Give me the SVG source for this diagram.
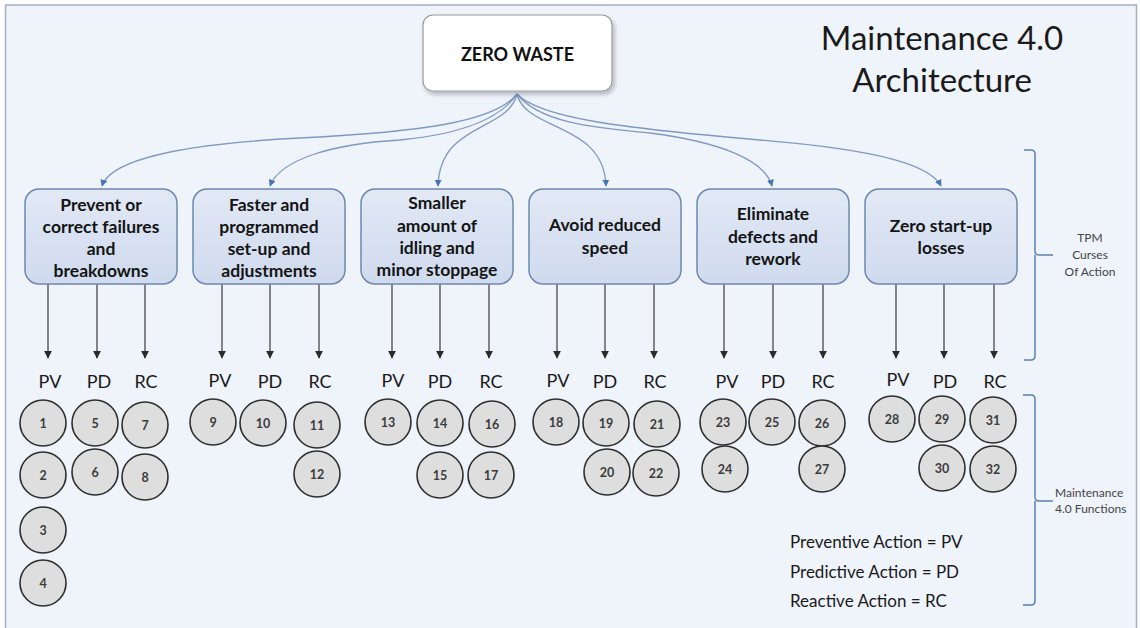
<svg xmlns="http://www.w3.org/2000/svg" width="1140" height="628" viewBox="0 0 1140 628">
  <defs>
    <style>
      .frame { fill: #eff3fa; stroke: #a3b0c6; stroke-width: 1.5; }
      .root-box { fill: #ffffff; stroke: #9a9a9a; stroke-width: 1.2; }
      .root-text { font-family: Lato, "Open Sans", sans-serif; font-weight: 700; font-size: 18px; fill: #111; text-anchor: middle; }
      .title { font-family: Lato, "Open Sans", sans-serif; font-size: 33px; fill: #1a1a1a; text-anchor: middle; }
      .box { fill: url(#boxFill); stroke: #6f86ad; stroke-width: 1.5; }
      .box-text { font-family: Lato, "Open Sans", sans-serif; font-weight: 700; font-size: 17.5px; fill: #141414; text-anchor: middle; }
      .branch { fill: none; stroke: #7f99c4; stroke-width: 1.3; marker-end: url(#blueHead); }
      .down { stroke: #3a3a3a; stroke-width: 1.2; marker-end: url(#darkHead); }
      .tag { font-family: Lato, "Open Sans", sans-serif; font-size: 18px; fill: #1a1a1a; text-anchor: middle; }
      .fn circle { fill: #dedede; stroke: #2e2e2e; stroke-width: 1.6; }
      .fn text { font-family: Lato, "Open Sans", sans-serif; font-weight: 700; font-size: 12.5px; fill: #3c3c3c; text-anchor: middle; }
      .bracket { fill: none; stroke: #5b7fb8; stroke-width: 1.5; }
      .side { font-family: Lato, "Open Sans", sans-serif; font-size: 12px; fill: #444; }
      .legend { font-family: Lato, "Open Sans", sans-serif; font-size: 17px; fill: #1a1a1a; }
    </style>
    <linearGradient id="boxFill" x1="0" y1="0" x2="0" y2="1">
      <stop offset="0" stop-color="#e2e9f5"/>
      <stop offset="1" stop-color="#cfdaee"/>
    </linearGradient>
    <filter id="shadow" x="-10%" y="-10%" width="125%" height="135%">
      <feDropShadow dx="2" dy="3" stdDeviation="2" flood-color="#000" flood-opacity="0.25"/>
    </filter>
    <marker id="blueHead" viewBox="0 0 10 10" refX="9" refY="5" markerWidth="7" markerHeight="7" markerUnits="userSpaceOnUse" orient="auto">
      <path d="M0,0 L10,5 L0,10 z" fill="#4a72b8"/>
    </marker>
    <marker id="darkHead" viewBox="0 0 10 10" refX="9" refY="5" markerWidth="8" markerHeight="8" markerUnits="userSpaceOnUse" orient="auto">
      <path d="M0,0 L10,5 L0,10 z" fill="#2a2a2a"/>
    </marker>
  </defs>

  <!-- canvas -->
  <rect x="0" y="0" width="1140" height="628" fill="#ffffff"/>
  <rect class="frame" x="5.5" y="5" width="1131" height="640"/>

  <!-- title -->
  <g id="title">
    <text class="title" x="942" y="50">Maintenance 4.0</text>
    <text class="title" x="942" y="92">Architecture</text>
  </g>

  <!-- connectors -->
  <g id="connectors">
    <path class="branch" d="M517,94 C495,122 420,132 300,138 C180,144 110,160 102,186"/>
    <path class="branch" d="M517,94 C497,124 445,136 400,140 C330,144 280,160 270,186"/>
    <path class="branch" d="M517,94 C508,132 440,122 438,186"/>
    <path class="branch" d="M517,94 C526,132 604,122 606,186"/>
    <path class="branch" d="M517,94 C540,124 600,128 650,133 C720,142 765,160 772,186"/>
    <path class="branch" d="M517,94 C540,118 620,128 760,140 C880,150 930,165 941,186"/>

    <line class="down" x1="48" y1="284" x2="48" y2="358"/>
    <line class="down" x1="97" y1="284" x2="97" y2="358"/>
    <line class="down" x1="145" y1="284" x2="145" y2="358"/>
    <line class="down" x1="222" y1="284" x2="222" y2="358"/>
    <line class="down" x1="270" y1="284" x2="270" y2="358"/>
    <line class="down" x1="319" y1="284" x2="319" y2="358"/>
    <line class="down" x1="392" y1="284" x2="392" y2="358"/>
    <line class="down" x1="440" y1="284" x2="440" y2="358"/>
    <line class="down" x1="489" y1="284" x2="489" y2="358"/>
    <line class="down" x1="557" y1="284" x2="557" y2="358"/>
    <line class="down" x1="605" y1="284" x2="605" y2="358"/>
    <line class="down" x1="654" y1="284" x2="654" y2="358"/>
    <line class="down" x1="724" y1="284" x2="724" y2="358"/>
    <line class="down" x1="773" y1="284" x2="773" y2="358"/>
    <line class="down" x1="823" y1="284" x2="823" y2="358"/>
    <line class="down" x1="896" y1="284" x2="896" y2="358"/>
    <line class="down" x1="944" y1="284" x2="944" y2="358"/>
    <line class="down" x1="994" y1="284" x2="994" y2="358"/>
  </g>

  <!-- root -->
  <g id="zero-waste">
    <rect class="root-box" x="423" y="15" width="189" height="76" rx="10" filter="url(#shadow)"/>
    <text class="root-text" x="517.5" y="61">ZERO WASTE</text>
  </g>

  <!-- TPM courses of action -->
  <g id="failures">
    <rect class="box" x="25" y="189" width="152" height="95" rx="14"/>
    <text class="box-text" x="101" y="211">Prevent or</text>
    <text class="box-text" x="101" y="233">correct failures</text>
    <text class="box-text" x="101" y="255">and</text>
    <text class="box-text" x="101" y="277">breakdowns</text>
  </g>
  <g id="setup">
    <rect class="box" x="193" y="189" width="152" height="95" rx="14"/>
    <text class="box-text" x="269" y="211">Faster and</text>
    <text class="box-text" x="269" y="233">programmed</text>
    <text class="box-text" x="269" y="255">set-up and</text>
    <text class="box-text" x="269" y="277">adjustments</text>
  </g>
  <g id="idling">
    <rect class="box" x="361" y="189" width="152" height="95" rx="14"/>
    <text class="box-text" x="437" y="209">Smaller</text>
    <text class="box-text" x="437" y="232">amount of</text>
    <text class="box-text" x="437" y="254">idling and</text>
    <text class="box-text" x="437" y="276">minor stoppage</text>
  </g>
  <g id="speed">
    <rect class="box" x="529" y="189" width="152" height="95" rx="14"/>
    <text class="box-text" x="605" y="231">Avoid reduced</text>
    <text class="box-text" x="605" y="254">speed</text>
  </g>
  <g id="defects">
    <rect class="box" x="697" y="189" width="152" height="95" rx="14"/>
    <text class="box-text" x="773" y="220">Eliminate</text>
    <text class="box-text" x="773" y="243">defects and</text>
    <text class="box-text" x="773" y="265">rework</text>
  </g>
  <g id="startup">
    <rect class="box" x="865" y="189" width="152" height="95" rx="14"/>
    <text class="box-text" x="941" y="232">Zero start-up</text>
    <text class="box-text" x="941" y="254">losses</text>
  </g>

  <!-- action type tags -->
  <g id="tags">
    <text class="tag" x="50" y="388">PV</text>
    <text class="tag" x="99" y="388">PD</text>
    <text class="tag" x="146" y="388">RC</text>
    <text class="tag" x="220" y="387">PV</text>
    <text class="tag" x="270" y="388">PD</text>
    <text class="tag" x="320" y="388">RC</text>
    <text class="tag" x="393" y="387">PV</text>
    <text class="tag" x="440" y="388">PD</text>
    <text class="tag" x="491" y="388">RC</text>
    <text class="tag" x="558" y="387">PV</text>
    <text class="tag" x="605" y="388">PD</text>
    <text class="tag" x="655" y="388">RC</text>
    <text class="tag" x="727" y="388">PV</text>
    <text class="tag" x="773" y="388">PD</text>
    <text class="tag" x="823" y="388">RC</text>
    <text class="tag" x="898" y="386">PV</text>
    <text class="tag" x="945" y="388">PD</text>
    <text class="tag" x="995" y="388">RC</text>
  </g>

  <!-- maintenance 4.0 functions -->
  <g id="functions" class="fn">
    <g id="f1"><circle cx="43" cy="423" r="23"/><text x="43" y="427.5">1</text></g>
    <g id="f2"><circle cx="43" cy="475" r="23"/><text x="43" y="479.5">2</text></g>
    <g id="f3"><circle cx="43" cy="530" r="23"/><text x="43" y="534.5">3</text></g>
    <g id="f4"><circle cx="43" cy="583" r="23"/><text x="43" y="587.5">4</text></g>
    <g id="f5"><circle cx="95" cy="423" r="23"/><text x="95" y="427.5">5</text></g>
    <g id="f6"><circle cx="95" cy="472" r="23"/><text x="95" y="476.5">6</text></g>
    <g id="f7"><circle cx="145" cy="425" r="23"/><text x="145" y="429.5">7</text></g>
    <g id="f8"><circle cx="145" cy="477" r="23"/><text x="145" y="481.5">8</text></g>
    <g id="f9"><circle cx="213" cy="422" r="23"/><text x="213" y="426.5">9</text></g>
    <g id="f10"><circle cx="263" cy="423" r="23"/><text x="263" y="427.5">10</text></g>
    <g id="f11"><circle cx="317" cy="425" r="23"/><text x="317" y="429.5">11</text></g>
    <g id="f12"><circle cx="317" cy="474" r="23"/><text x="317" y="478.5">12</text></g>
    <g id="f13"><circle cx="388" cy="422" r="23"/><text x="388" y="426.5">13</text></g>
    <g id="f14"><circle cx="440" cy="423" r="23"/><text x="440" y="427.5">14</text></g>
    <g id="f15"><circle cx="440" cy="475" r="23"/><text x="440" y="479.5">15</text></g>
    <g id="f16"><circle cx="492" cy="424" r="23"/><text x="492" y="428.5">16</text></g>
    <g id="f17"><circle cx="491" cy="475" r="23"/><text x="491" y="479.5">17</text></g>
    <g id="f18"><circle cx="556" cy="422" r="23"/><text x="556" y="426.5">18</text></g>
    <g id="f19"><circle cx="606" cy="423" r="23"/><text x="606" y="427.5">19</text></g>
    <g id="f20"><circle cx="607" cy="472" r="23"/><text x="607" y="476.5">20</text></g>
    <g id="f21"><circle cx="657" cy="424" r="23"/><text x="657" y="428.5">21</text></g>
    <g id="f22"><circle cx="656" cy="473" r="23"/><text x="656" y="477.5">22</text></g>
    <g id="f23"><circle cx="723" cy="422" r="23"/><text x="723" y="426.5">23</text></g>
    <g id="f24"><circle cx="725" cy="469" r="23"/><text x="725" y="473.5">24</text></g>
    <g id="f25"><circle cx="772" cy="422" r="23"/><text x="772" y="426.5">25</text></g>
    <g id="f26"><circle cx="822" cy="423" r="23"/><text x="822" y="427.5">26</text></g>
    <g id="f27"><circle cx="822" cy="469" r="23"/><text x="822" y="473.5">27</text></g>
    <g id="f28"><circle cx="892" cy="419" r="23"/><text x="892" y="423.5">28</text></g>
    <g id="f29"><circle cx="942" cy="419" r="23"/><text x="942" y="423.5">29</text></g>
    <g id="f30"><circle cx="942" cy="468" r="23"/><text x="942" y="472.5">30</text></g>
    <g id="f31"><circle cx="993" cy="420" r="23"/><text x="993" y="424.5">31</text></g>
    <g id="f32"><circle cx="993" cy="469" r="23"/><text x="993" y="473.5">32</text></g>
  </g>

  <!-- legend -->
  <g id="legend">
    <text class="legend" x="790" y="548">Preventive Action = PV</text>
    <text class="legend" x="790" y="578">Predictive Action = PD</text>
    <text class="legend" x="790" y="607">Reactive Action = RC</text>
  </g>

  <!-- side brackets -->
  <g id="bracket-tpm">
    <path class="bracket" d="M1024,150 H1031 Q1035,150 1035,154 V251 Q1035,255 1039,255 H1053 M1035,255 V356 Q1035,360 1031,360 H1024"/>
    <text class="side" x="1090" y="242" text-anchor="middle">TPM</text>
    <text class="side" x="1090" y="259" text-anchor="middle">Curses</text>
    <text class="side" x="1090" y="276" text-anchor="middle">Of Action</text>
  </g>
  <g id="bracket-functions">
    <path class="bracket" d="M1023,395 H1031 Q1035,395 1035,399 V497 Q1035,501 1039,501 H1053 M1035,501 V601 Q1035,605 1031,605 H1023"/>
    <text class="side" x="1055" y="497">Maintenance</text>
    <text class="side" x="1055" y="513">4.0 Functions</text>
  </g>
</svg>
